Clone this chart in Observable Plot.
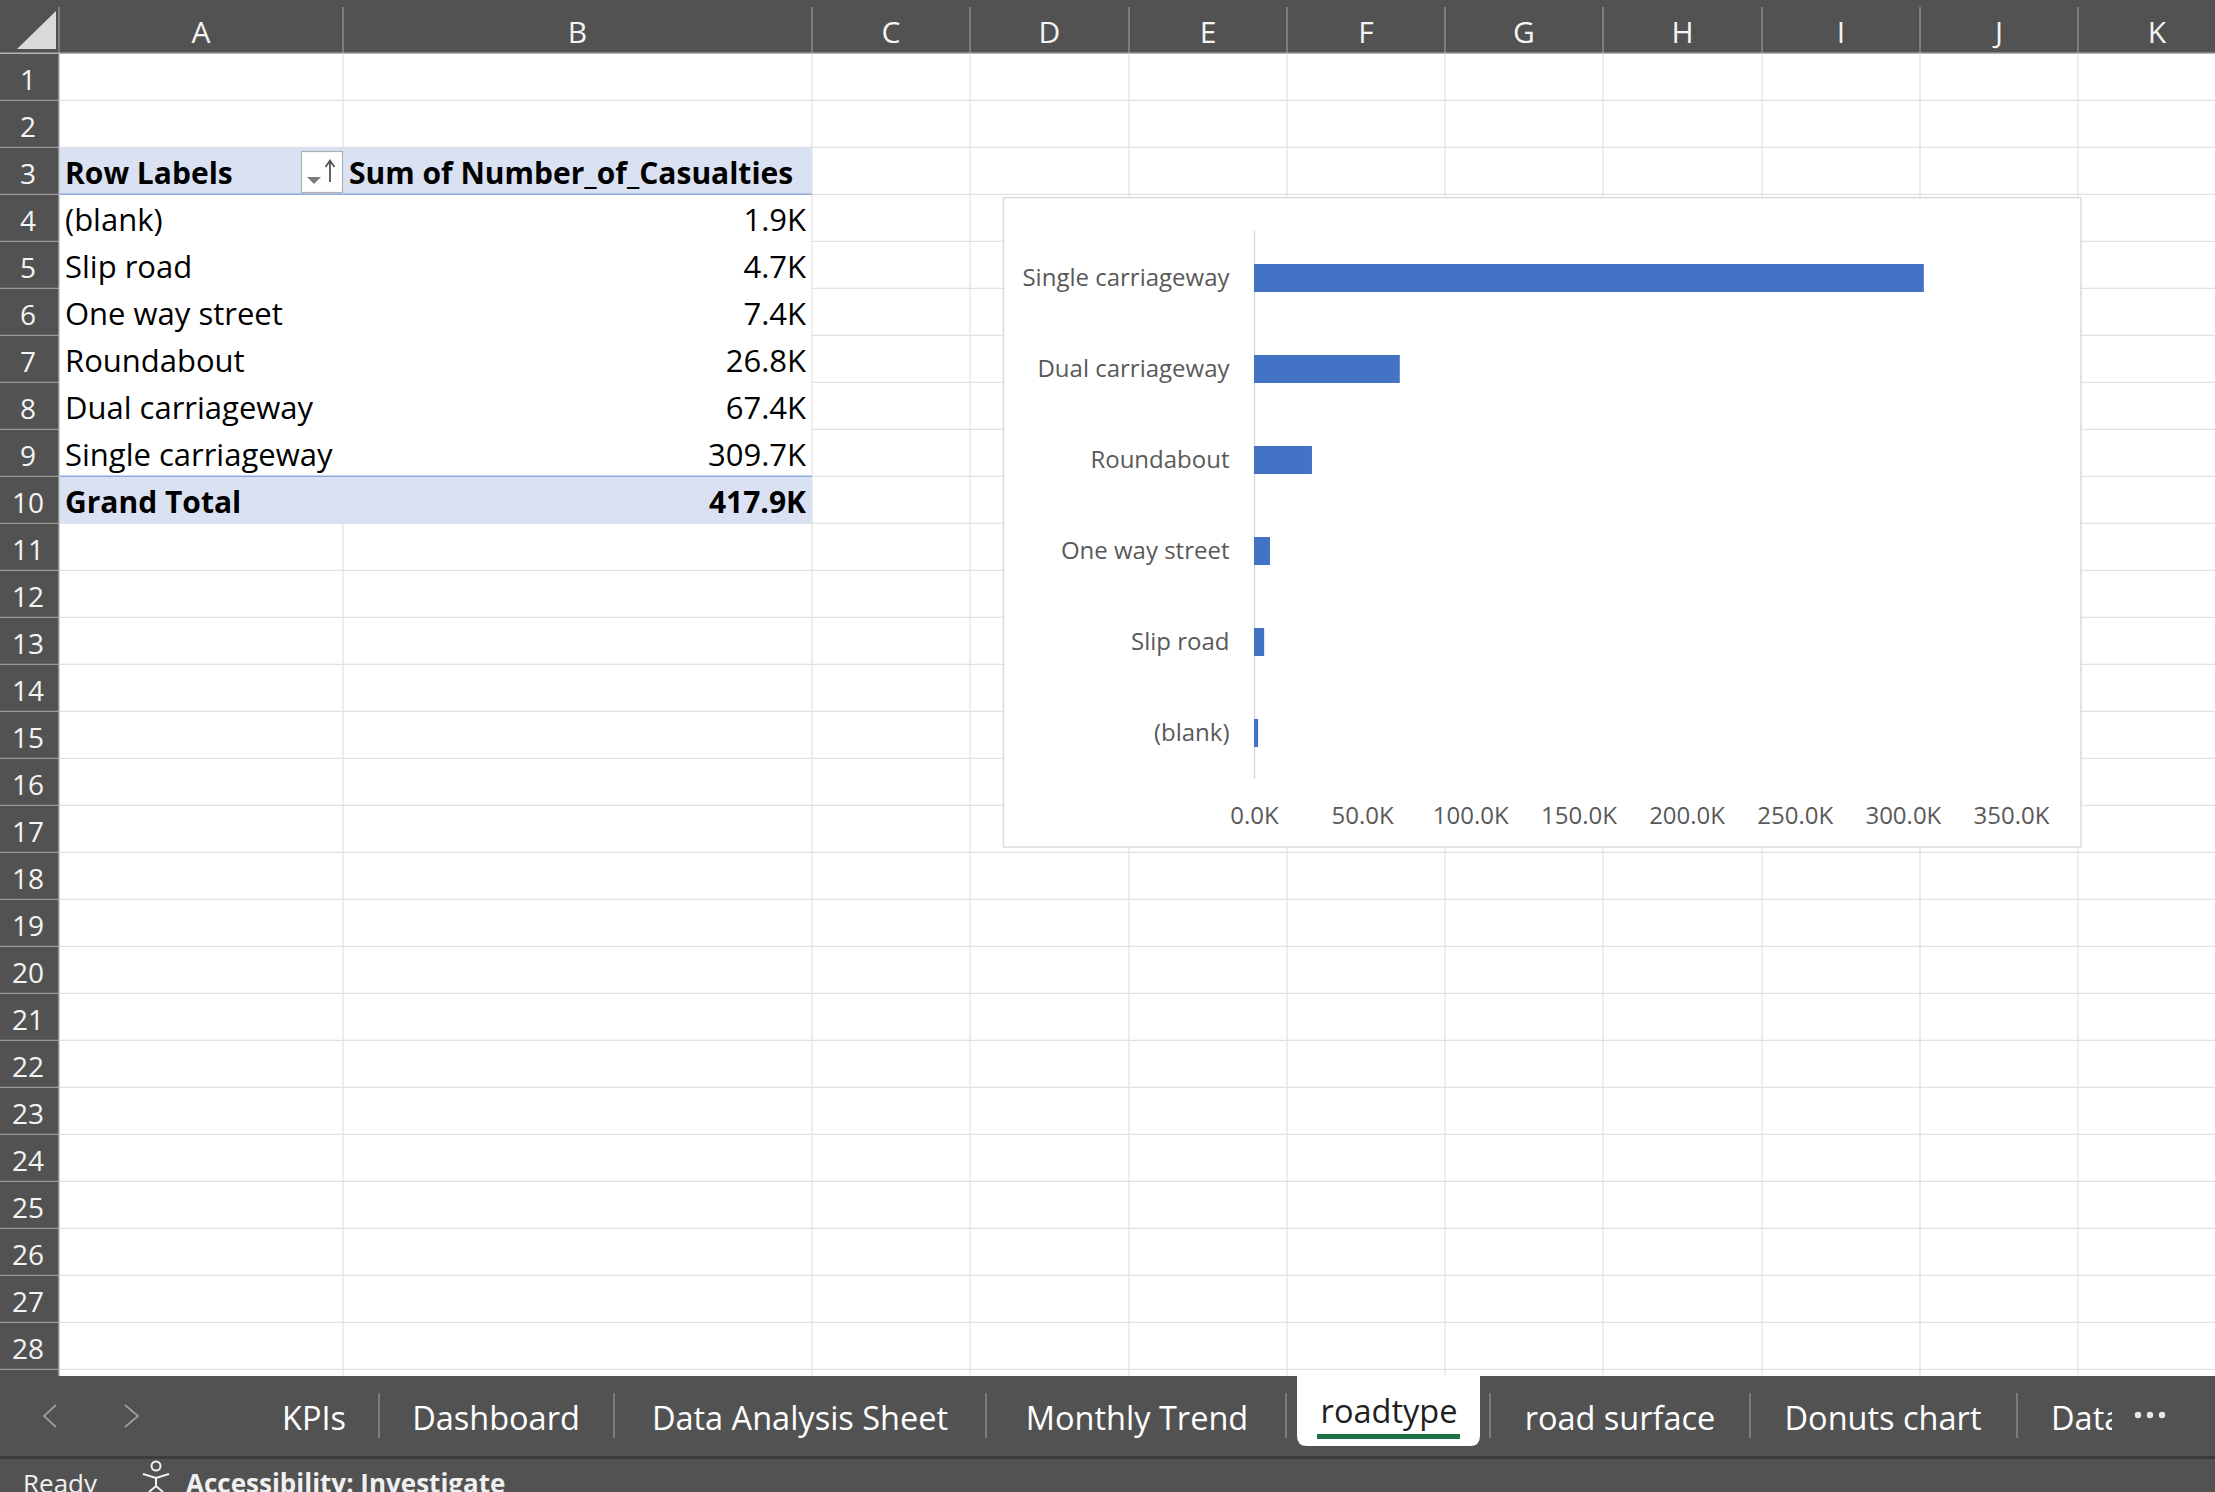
<!DOCTYPE html>
<html><head><meta charset="utf-8">
<script src="https://cdn.jsdelivr.net/npm/d3@7"></script>
<script src="https://cdn.jsdelivr.net/npm/@observablehq/plot@0.6"></script>
<style>
html,body{margin:0;padding:0;width:2215px;height:1492px;overflow:hidden;background:#fff;font-family:"Open Sans","Noto Sans",sans-serif;}
#sheet{position:absolute;left:0;top:0;width:2215px;height:1492px;}
#chart{position:absolute;left:1004px;top:198px;}
</style></head><body>
<div id="sheet"></div>
<div id="chart"></div>
<script>
// ---------- data ----------
const categories = ["Single carriageway", "Dual carriageway", "Roundabout", "One way street", "Slip road", "(blank)"];
const casualties = [309700, 67400, 26800, 7400, 4700, 1900];
const xTicks = [0, 50000, 100000, 150000, 200000, 250000, 300000, 350000];
const columnLetters = ["A", "B", "C", "D", "E", "F", "G", "H", "I", "J", "K"];
const sheetTabs = ["KPIs", "Dashboard", "Data Analysis Sheet", "Monthly Trend", "roadtype", "road surface", "Donuts chart", "Data"];
const activeTab = "roadtype";
const pivotHeader = ["Row Labels", "Sum of Number_of_Casualties"];
const totalLabel = "Grand Total";

const fmtK = d => (d / 1000).toFixed(1) + "K";
const rows = categories.map((c, i) => ({category: c, value: casualties[i]}));
const pivotRows = rows.slice().sort((a, b) => a.value - b.value);
const grandTotal = d3.sum(casualties);

// ---------- spreadsheet frame ----------
const W = 2215, H = 1492;
const colEdges = [59, 343, 812, 970, 1129, 1287, 1445, 1603, 1762, 1920, 2078, 2236];
const rowTop0 = 53.3, rowH = 47, nRows = 29, sheetBottom = 1376;
const rowTop = r => rowTop0 + (r - 1) * rowH;
const headBg = "#525252";

const svg = d3.select("#sheet").append("svg")
  .attr("width", W).attr("height", H)
  .style("font-family", "'Open Sans','Noto Sans',sans-serif");

// gridlines
const grid = svg.append("g").attr("stroke", "#e1e1e1").attr("stroke-width", 1.2);
colEdges.forEach(x => grid.append("line").attr("x1", x).attr("x2", x).attr("y1", rowTop0).attr("y2", sheetBottom));
for (let r = 1; r <= nRows; r++) {
  const y = rowTop(r) + rowH;
  grid.append("line").attr("x1", 59).attr("x2", W).attr("y1", y).attr("y2", y);
}

// pivot table fills & borders
const tblL = 59.5, tblR = 812;
svg.append("rect").attr("x", tblL).attr("y", rowTop(4)).attr("width", tblR - tblL - 0.8).attr("height", rowH * 6).attr("fill", "#fff");
svg.append("rect").attr("x", tblL).attr("y", rowTop(3) + 0.5).attr("width", tblR - tblL).attr("height", rowH - 0.5).attr("fill", "#D9E1F2");
svg.append("rect").attr("x", tblL).attr("y", rowTop(10) + 0.5).attr("width", tblR - tblL).attr("height", rowH - 0.5).attr("fill", "#D9E1F2");
[rowTop(4), rowTop(10)].forEach(y => svg.append("line").attr("x1", tblL).attr("x2", tblR).attr("y1", y).attr("y2", y).attr("stroke", "#8EA9DB").attr("stroke-width", 1.6));

// pivot text
const base = r => rowTop(r) + 37;
const tt = svg.append("g").attr("font-size", 31).attr("fill", "#000");
tt.append("text").attr("x", 65).attr("y", base(3)).attr("font-weight", 700).attr("font-size", 30).text(pivotHeader[0]);
tt.append("text").attr("x", 349).attr("y", base(3)).attr("font-weight", 700).attr("font-size", 30).text(pivotHeader[1]);
pivotRows.forEach((d, i) => {
  tt.append("text").attr("x", 65).attr("y", base(4 + i)).text(d.category);
  tt.append("text").attr("x", 806).attr("y", base(4 + i)).attr("text-anchor", "end").text(fmtK(d.value));
});
tt.append("text").attr("x", 65).attr("y", base(10)).attr("font-weight", 700).attr("font-size", 30).text(totalLabel);
tt.append("text").attr("x", 806).attr("y", base(10)).attr("font-weight", 700).attr("font-size", 30).attr("text-anchor", "end").text(fmtK(grandTotal));

// sort button
const sb = svg.append("g");
sb.append("rect").attr("x", 301.5).attr("y", 151.5).attr("width", 41).attr("height", 41).attr("fill", "#fff").attr("stroke", "#b0b0b0").attr("stroke-width", 1.2);
sb.append("path").attr("d", "M307,177 L321,177 L314,184 Z").attr("fill", "#7a7a7a");
sb.append("path").attr("d", "M330,182 L330,162 M325.5,167 L330,160.5 L334.5,167").attr("stroke", "#555").attr("stroke-width", 1.8).attr("fill", "none");

// column / row headers
svg.append("rect").attr("x", 0).attr("y", 0).attr("width", W).attr("height", rowTop0).attr("fill", headBg);
svg.append("rect").attr("x", 0).attr("y", rowTop0).attr("width", 59).attr("height", sheetBottom - rowTop0).attr("fill", headBg);
svg.append("path").attr("d", "M17,49 L56,49 L56,11 Z").attr("fill", "#dadada");
colEdges.forEach(x => svg.append("line").attr("x1", x).attr("x2", x).attr("y1", 7).attr("y2", rowTop0).attr("stroke", "#9a9a9a").attr("stroke-width", 1.2));
svg.append("line").attr("x1", 0).attr("x2", W).attr("y1", rowTop0).attr("y2", rowTop0).attr("stroke", "#b5b5b5").attr("stroke-width", 1.5);
columnLetters.forEach((L, i) => {
  svg.append("text").attr("x", (colEdges[i] + colEdges[i + 1]) / 2).attr("y", 43).attr("text-anchor", "middle")
    .attr("font-size", 30).attr("fill", "#f4f4f4").text(L);
});
for (let r = 1; r <= nRows; r++) {
  const y = rowTop(r) + rowH;
  svg.append("line").attr("x1", 0).attr("x2", 59).attr("y1", y).attr("y2", y).attr("stroke", "#9a9a9a").attr("stroke-width", 1.2);
  svg.append("text").attr("x", 28).attr("y", rowTop(r) + 37).attr("text-anchor", "middle")
    .attr("font-size", 28).attr("fill", "#f4f4f4").text(r);
}
svg.append("line").attr("x1", 59).attr("x2", 59).attr("y1", rowTop0).attr("y2", sheetBottom).attr("stroke", "#b5b5b5").attr("stroke-width", 1.2);

// chart area box
svg.append("rect").attr("x", 1003.5).attr("y", 197.7).attr("width", 1077.5).attr("height", 649.3)
  .attr("fill", "#fff").attr("stroke", "#d9d9d9").attr("stroke-width", 1.4);

// sheet tab bar
svg.append("rect").attr("x", 0).attr("y", sheetBottom).attr("width", W).attr("height", 82).attr("fill", headBg);
svg.append("rect").attr("x", 0).attr("y", 1456).attr("width", W).attr("height", 3).attr("fill", "#3c3c3c");
svg.append("rect").attr("x", 0).attr("y", 1459).attr("width", W).attr("height", 33).attr("fill", headBg);
svg.append("path").attr("d", "M1297,1376 L1480,1376 L1480,1436 Q1480,1446 1470,1446 L1307,1446 Q1297,1446 1297,1436 Z").attr("fill", "#fff");
svg.append("rect").attr("x", 1317).attr("y", 1434).attr("width", 143).attr("height", 5).attr("fill", "#1e7145");
svg.append("path").attr("d", "M56,1405 L44,1416 L56,1427").attr("stroke", "#9c9c9c").attr("stroke-width", 1.8).attr("fill", "none");
svg.append("path").attr("d", "M125,1405 L138,1416 L125,1427").attr("stroke", "#9c9c9c").attr("stroke-width", 1.8).attr("fill", "none");
const tabCenters = [314, 496, 800, 1137, 1389, 1620, 1883];
const tabSeps = [379, 614, 986, 1286, 1490, 1750, 2017];
tabSeps.forEach(x => svg.append("line").attr("x1", x).attr("x2", x).attr("y1", 1393).attr("y2", 1438).attr("stroke", "#8a8a8a").attr("stroke-width", 1.5));
svg.append("clipPath").attr("id", "tabclip").append("rect").attr("x", 0).attr("y", 1376).attr("width", 2112).attr("height", 80);
const tabs = svg.append("g").attr("clip-path", "url(#tabclip)").attr("font-size", 32.5);
sheetTabs.forEach((name, i) => {
  const active = name === activeTab;
  const t = tabs.append("text").attr("y", active ? 1423 : 1430).attr("fill", active ? "#1f1f1f" : "#ffffff").text(name);
  if (i < tabCenters.length) t.attr("x", tabCenters[i]).attr("text-anchor", "middle");
  else t.attr("x", 2051);
});
svg.append("g").attr("fill", "#e6e6e6").selectAll("circle").data([2138, 2150, 2162]).join("circle")
  .attr("cx", d => d).attr("cy", 1415).attr("r", 3.2);

// status bar
svg.append("text").attr("x", 23).attr("y", 1493).attr("font-size", 26).attr("fill", "#f0f0f0").text("Ready");
const ic = svg.append("g").attr("stroke", "#f0f0f0").attr("stroke-width", 2).attr("fill", "none");
ic.append("circle").attr("cx", 156).attr("cy", 1466).attr("r", 4.5);
ic.append("path").attr("d", "M143,1474 L156,1478 L169,1474 M156,1478 L156,1486 M149,1492 L156,1486 L163,1492");
svg.append("text").attr("x", 186).attr("y", 1493).attr("font-size", 26).attr("font-weight", 700).attr("fill", "#f0f0f0").text("Accessibility: Investigate");

// ---------- chart (Observable Plot) ----------
const chart = Plot.plot({
  width: 1077,
  height: 649,
  marginLeft: 250,
  marginRight: 70,
  marginTop: 33,
  marginBottom: 68,
  style: {fontFamily: "'Open Sans','Noto Sans',sans-serif", fontSize: "24px", color: "#595959", background: "transparent", overflow: "visible"},
  x: {domain: [0, 350000], ticks: xTicks, tickFormat: fmtK, tickSize: 0, tickPadding: 27, label: null},
  y: {domain: categories, paddingInner: 0.696, paddingOuter: 0.348, tickSize: 0, tickPadding: 25, label: null},
  marks: [
    Plot.ruleX([0], {stroke: "#d9d9d9", strokeWidth: 1.4}),
    Plot.barX(rows, {x: "value", y: "category", fill: "#4472C4"})
  ]
});
document.getElementById("chart").appendChild(chart);
</script>
</body></html>
